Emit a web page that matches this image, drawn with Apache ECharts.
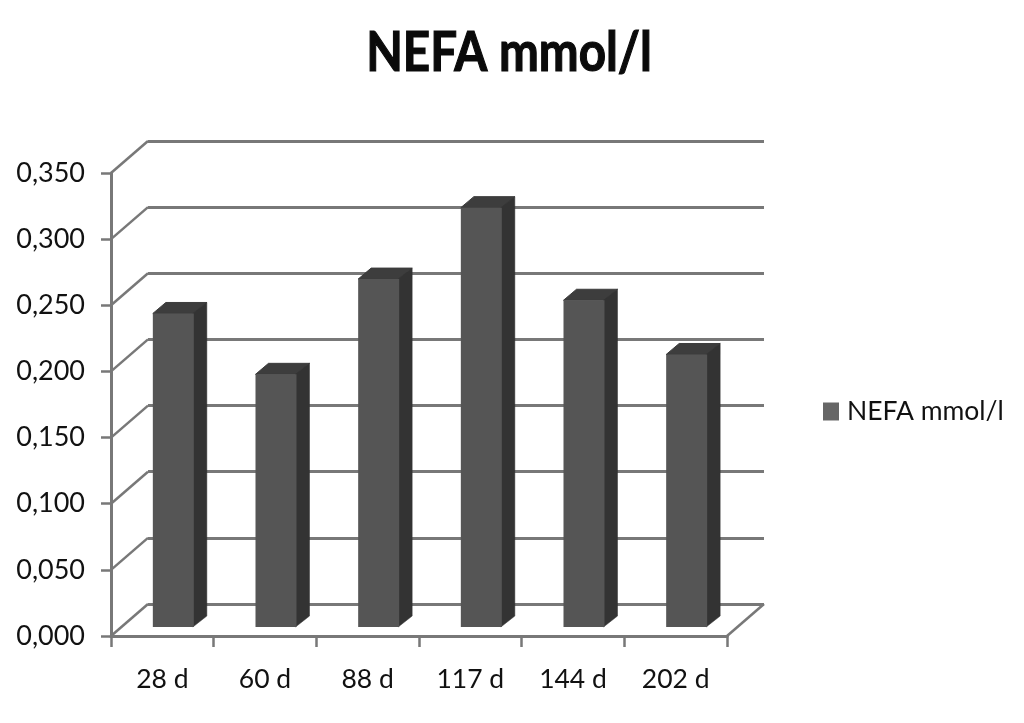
<!DOCTYPE html>
<html><head><meta charset="utf-8">
<style>html,body{margin:0;padding:0;background:#fff}#c{width:1024px;height:723px;filter:blur(0.6px)}</style>
<script src="https://cdn.jsdelivr.net/npm/echarts@6/dist/echarts.min.js"></script>
</head><body><div id="c"></div>
<script>
var titleText = 'NEFA mmol/l';
var seriesName = 'NEFA mmol/l';
var categories = ['28 d','60 d','88 d','117 d','144 d','202 d'];
var values = [0.237,0.191,0.263,0.317,0.247,0.206];
var wallTicks = [0,0.05,0.1,0.15,0.2,0.25,0.3,0.35];

var WALL_DX = 37, WALL_DY = -32;
var BAR_SHIFT_X = 11, BAR_SHIFT_Y = -9;
var BAR_W = 41, BAR_DX = 13, BAR_DY = -11;
var LINE = '#787878', FACE = '#555555', SIDE = '#333333', TOP = '#3d3d3d', TEXT = '#111111';
var FONT = 'Lato';

function renderWall(params, api){
  var cs = params.coordSys;
  var y = api.coord([0, api.value(0)])[1];
  var x = cs.x;
  var children = [{type:'line',shape:{x1:x,y1:y,x2:x+WALL_DX,y2:y+WALL_DY},style:{stroke:LINE,lineWidth:2.5}}];
  if (api.value(0) === 0) {
    children.push({type:'line',shape:{x1:x+cs.width,y1:y,x2:x+cs.width+WALL_DX,y2:y+WALL_DY},style:{stroke:LINE,lineWidth:2.5}});
  }
  return {type:'group',children:children};
}
function renderBar(params, api){
  var base = api.coord([api.value(0), 0]);
  var top = api.coord([api.value(0), api.value(1)]);
  var l = base[0] + BAR_SHIFT_X - BAR_W/2, r = l + BAR_W;
  var b = base[1] + BAR_SHIFT_Y, t = top[1] + BAR_SHIFT_Y;
  return {type:'group',children:[
    {type:'polygon',shape:{points:[[l,t],[l+BAR_DX,t+BAR_DY],[r+BAR_DX,t+BAR_DY],[r,t]]},style:{fill:TOP,stroke:TOP,lineWidth:1}},
    {type:'polygon',shape:{points:[[r-1,t],[r+BAR_DX,t+BAR_DY],[r+BAR_DX,b+BAR_DY],[r-1,b]]},style:{fill:SIDE,stroke:SIDE,lineWidth:0.5}},
    {type:'rect',shape:{x:l,y:t,width:BAR_W,height:b-t},style:{fill:FACE}}
  ]};
}

var chart = echarts.init(document.getElementById('c'),null,{renderer:'canvas'});
chart.setOption({
  animation:false,
  backgroundColor:'#ffffff',
  graphic:[{type:'text',x:509,y:53,scaleX:0.85,z:10,
    style:{text:titleText,textAlign:'center',textVerticalAlign:'middle',
      fontFamily:FONT,fontWeight:'bold',fontSize:56,fill:'#0a0a0a',stroke:'#0a0a0a',lineWidth:1.2}}],
  legend:{show:true,left:818,top:393,itemWidth:16,itemHeight:18,itemGap:0,icon:'rect',
    data:[{name:seriesName,itemStyle:{color:'#666666'}}],
    textStyle:{fontFamily:FONT,fontSize:26.5,color:TEXT,padding:[0,0,0,3]}},
  grid:[
    {left:111,top:173,width:616,height:463},
    {left:148,top:141,width:616,height:463}
  ],
  xAxis:[
    {type:'category',gridIndex:0,data:categories,
      axisLine:{lineStyle:{color:LINE,width:3}},
      axisTick:{show:true,alignWithLabel:false,length:11,lineStyle:{color:LINE,width:2.5}},
      axisLabel:{margin:30,fontFamily:FONT,fontSize:26.5,color:TEXT,interval:0}},
    {type:'category',gridIndex:1,data:categories,show:false}
  ],
  yAxis:[
    {type:'value',gridIndex:0,min:0,max:0.35,interval:0.05,
      axisLine:{show:true,lineStyle:{color:LINE,width:3}},
      axisTick:{show:true,length:10,lineStyle:{color:LINE,width:2.5}},
      splitLine:{show:false},
      axisLabel:{margin:26,fontFamily:FONT,fontSize:27,color:TEXT,
        formatter:function(v){return v.toFixed(3).replace('.',',');}}},
    {type:'value',gridIndex:1,min:0,max:0.35,interval:0.05,
      axisLine:{show:false},axisTick:{show:false},axisLabel:{show:false},
      splitLine:{show:true,lineStyle:{color:LINE,width:3,type:'solid'}}}
  ],
  series:[
    {type:'custom',name:'wall',xAxisIndex:0,yAxisIndex:0,silent:true,z:1,clip:false,
      renderItem:renderWall,data:wallTicks.map(function(v){return [v];}),encode:{y:0}},
    {type:'custom',name:seriesName,xAxisIndex:0,yAxisIndex:0,z:5,clip:false,
      itemStyle:{color:'#666666'},
      renderItem:renderBar,data:values.map(function(v,i){return [i,v];}),encode:{x:0,y:1}}
  ]
});
</script></body></html>
